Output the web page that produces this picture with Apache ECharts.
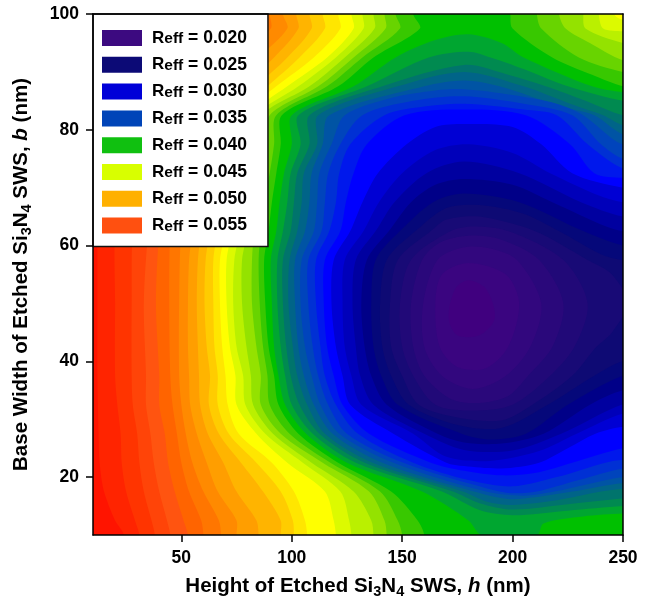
<!DOCTYPE html>
<html>
<head>
<meta charset="utf-8">
<title>Reff contour</title>
<script src="https://cdn.jsdelivr.net/npm/echarts@6/dist/echarts.min.js"></script>
<style>
  html, body { margin: 0; padding: 0; background: #fff; }
  #chart { width: 649px; height: 604px; }
</style>
</head>
<body>
<div id="chart"></div>
<script>
// contour lines of R_eff, as [h (nm), b (nm)] points.
// wallXXX: runs from the top edge down to the bottom edge (region to its right is below the level)
const wall058 = [[15,100],[13,90],[12,80],[12,62.5],[12,50],[12,37.5],[12.5,27.5],[13,22.5],[15,17.5],[20,12.5],[24,10]];
const wall057 = [[30,100],[25,92.5],[24,77.5],[23,67.5],[20,62.5],[20,50],[20,37.5],[21,32.5],[22.5,27.5],[23,22.5],[25,17.5],[29,12.5],[31,10]];
const wall056 = [[40,100],[35,92.5],[33,77.5],[31,67.5],[28,62.5],[27.5,50],[27.5,37.5],[28,32.5],[30,27.5],[31,22.5],[33,17.5],[36.5,12.5],[38,10]];
const wall055 = [[50,100],[45,92.5],[40,77.5],[37,67.5],[35,62.5],[33,50],[34,37.5],[34,32.5],[36,27.5],[37.5,22.5],[40,17.5],[43.5,12.5],[45,10]];
const wall054 = [[65,100],[55,92.5],[47,77.5],[42,67.5],[40,62.5],[38.5,50],[40,37.5],[40,32.5],[42.5,27.5],[44,22.5],[47,17.5],[51,12.5],[53,10]];
const wall053 = [[82,100],[65,92.5],[52,77.5],[47,67.5],[45,62.5],[44.5,50],[45,37.5],[46,32.5],[48,27.5],[50,22.5],[53.5,17.5],[59,12.5],[60,10]];
const wall052 = [[90,100],[90.5,97.5],[75,92.5],[65,87.5],[58,82.5],[55,77.5],[54,72.5],[53,67.5],[50,62.5],[49,50],[49,37.5],[50,32.5],[52,27.5],[55,22.5],[60,17.5],[67,12.5],[68,10]];
const wall051 = [[96,100],[98,97.5],[85,92.5],[72,87.5],[62.5,82.5],[60,77.5],[57.5,72.5],[56,67.5],[55,62.5],[53.5,57.5],[53,50],[53,42.5],[53.5,37.5],[54,32.5],[57,27.5],[61.5,22.5],[66.5,17.5],[75,12.5],[75,10]];
const wall050 = [[102,100],[103,97.5],[92,92.5],[78,87.5],[67,82.5],[65,77.5],[62.5,72.5],[60.5,67.5],[59,62.5],[57.5,57.5],[57,50],[57.5,42.5],[58,37.5],[58.5,32.5],[62,27.5],[69,22.5],[75,17.5],[84,12.5],[85,10]];
const wall049 = [[108,100],[109,97.5],[98,92.5],[84,87.5],[71,82.5],[68,77.5],[66.5,72.5],[65,67.5],[63,62.5],[61,57.5],[60.5,50],[61.5,42.5],[63,37.5],[62.5,32.5],[67,27.5],[77,22.5],[87,17.5],[95,12.5],[95,10]];
const wall048 = [[114,100],[115,97.5],[103.5,92.5],[89,87.5],[75,82.5],[72,77.5],[70,72.5],[68.5,67.5],[66.5,62.5],[64.5,57.5],[64.5,50],[65,42.5],[66.5,37.5],[66.5,32.5],[71.5,27.5],[84,22.5],[95,17.5],[100.5,12.5],[101,10]];
const wall047 = [[121,100],[122,97.5],[110,92.5],[93,87.5],[78,82.5],[75,77.5],[73.5,72.5],[71.5,67.5],[70,62.5],[67.5,57.5],[67.5,50],[68.5,42.5],[70,37.5],[71,32.5],[76,27.5],[91,22.5],[101,17.5],[106,12.5],[107,10]];
const wall046 = [[127,100],[128,97.5],[116,92.5],[98,87.5],[81,82.5],[78.5,77.5],[76.5,72.5],[75,67.5],[73,62.5],[70.5,57.5],[70.5,50],[72,42.5],[74.5,37.5],[75,32.5],[84,27.5],[98,22.5],[115,17.5],[119,12.5],[120,10]];
const wall045 = [[132,100],[132.5,97.5],[120,92.5],[103,87.5],[84,82.5],[82,77.5],[80,72.5],[78,67.5],[76.5,62.5],[74,57.5],[73.5,50],[75,42.5],[78,37.5],[79,32.5],[88,27.5],[105,22.5],[122,17.5],[126,12.5],[127,10]];
const wall044 = [[137,100],[137.5,97.5],[124,92.5],[108,87.5],[86.5,82.5],[86,77.5],[83.5,72.5],[81,67.5],[80,62.5],[77.5,57.5],[77.5,50],[79.5,42.5],[81.5,37.5],[82.5,32.5],[91.5,27.5],[109,22.5],[128,17.5],[136,12.5],[137,10]];
const wall043 = [[142,100],[142.5,97.5],[128,92.5],[112,87.5],[90,82.5],[89,77.5],[86.5,72.5],[84.5,67.5],[83,62.5],[82,57.5],[82,50],[84,42.5],[86,37.5],[86,32.5],[95,27.5],[114,22.5],[135,17.5],[142,12.5],[143,10]];
const wall042 = [[147,100],[149,97.5],[132,92.5],[116,87.5],[93,82.5],[92,77.5],[90,72.5],[87.5,67.5],[86,62.5],[85,57.5],[85.5,50],[87,42.5],[89,37.5],[90,32.5],[99,27.5],[117.5,22.5],[140,17.5],[148,12.5],[150,10]];
const wall041 = [[155,100],[158,97.5],[137,92.5],[121,87.5],[95.5,82.5],[95,77.5],[93,72.5],[91,67.5],[89.5,62.5],[87.5,57.5],[88,50],[89.5,42.5],[92,37.5],[94,32.5],[103,27.5],[121,22.5],[145,17.5],[157,12.5],[160,10]];
// topXXX: same levels near the top-right corner, from the right edge up to the top edge
const top046 = [[250,99],[246,100]];
const top045 = [[250,97],[241,97.5],[239,100]];
const top044 = [[250,95],[233,97.5],[232,100]];
const top043 = [[250,92],[235,95],[224,97.5],[221,100]];
const top042 = [[250,90],[230,92.5],[213,97.5],[211,100]];
const top041 = [[250,87.5],[236,89.5],[218,92.5],[200,97.5],[199,100]];
// bowlXXX: from the right edge (low side) round the basin back to the right edge (high side)
const bowl040 = [[250,13.7],[232,13.2],[214,12],[211,10],[186,10],[180,12.5],[159,17.5],[125,22.5],[106.5,27.5],[97,32.5],[94,37.5],[92,42.5],[91,50],[90.5,57.5],[93,62.5],[94.5,67.5],[96.5,72.5],[100,77.5],[100,82.5],[128,87.5],[147,92.5],[165,95.5],[180,96.5],[195,95],[205,92.5],[236,87.5],[250,86.5]];
const bowl039 = [[250,15],[225,14.2],[200,13.4],[185,14.3],[168,17.5],[129,22.5],[109.5,27.5],[100,32.5],[97,37.5],[95,42.5],[93.5,50],[93.5,57.5],[96,62.5],[98,67.5],[99.5,72.5],[104,77.5],[103,82.5],[134,87.5],[162,92.5],[180,93.5],[190,92.5],[205,90.5],[225,87.5],[250,85]];
const bowl038 = [[250,16.3],[225,15.3],[200,14.4],[185,15.5],[173,17.5],[133,22.5],[112.5,27.5],[103.5,32.5],[99.5,37.5],[97.5,42.5],[96,50],[96,57.5],[99.5,62.5],[101,67.5],[102.5,72.5],[108,77.5],[108,82.5],[141,87.5],[178,91.2],[198,89.5],[215,87.5],[233,85],[250,82.5]];
const bowl037 = [[250,18],[240,17.5],[220,16],[200,15.2],[188,15.8],[177.5,17.5],[136.5,22.5],[115,27.5],[107,32.5],[102.5,37.5],[100.5,42.5],[98.5,50],[99,57.5],[102.5,62.5],[104.5,67.5],[105.5,72.5],[111.5,77.5],[112,82.5],[148,87.5],[178,90],[205,87.5],[226,84.5],[241,82.5],[250,80.8]];
const bowl036 = [[250,19],[227,17.5],[210,16.5],[198,16.2],[182.5,17.5],[141,22.5],[118.5,27.5],[110,32.5],[105.5,37.5],[103,42.5],[101.5,50],[101.5,57.5],[106,62.5],[108,67.5],[109,72.5],[114,77.5],[117,82.5],[160,87.5],[178,88.5],[194,87.5],[222,84],[237,82.5],[250,79.2]];
const bowl035 = [[250,20],[219,17.5],[205,16.8],[188,17.5],[146,22.5],[121.5,27.5],[113,32.5],[109,37.5],[106,42.5],[104,50],[104.5,57.5],[110,62.5],[111.5,67.5],[112.5,72.5],[118,77.5],[124,82.5],[145,85.5],[165,86.8],[178,87],[200,86],[220,84.5],[232,82.5],[245,78.5],[250,77.5]];
const bowl034 = [[250,21.5],[230,19.5],[211,17.5],[202,17.2],[194,17.5],[150.5,22.5],[125,27.5],[116.5,32.5],[112,37.5],[109.5,42.5],[107.5,50],[107.5,57.5],[113.5,62.5],[115,67.5],[116.5,72.5],[122,77.5],[132,82.5],[155,85],[178,85.8],[205,84.5],[227,82.5],[240,77.5],[250,75]];
const bowl033 = [[250,23],[242,22.5],[220,20],[200,18.4],[180,19.5],[155,22.5],[130,27.5],[120,32.5],[115,37.5],[113,42.5],[111,50],[111,57.5],[117,62.5],[120,67.5],[121.5,72.5],[126.5,77.5],[142,82.5],[160,84],[178,84.5],[205,83.5],[220,82.5],[234,77.5],[250,73.3]];
const bowl032 = [[250,25],[227,22.5],[210,20.7],[195,20.3],[178,21.1],[163,22.5],[135,27.5],[123,32.5],[119,37.5],[116,42.5],[114.5,50],[115,57.5],[122,62.5],[124.5,67.5],[128,72.5],[134,77.5],[151,82.5],[178,83.5],[206,82.5],[226,77.5],[237,72.5],[250,71.7]];
const bowl031 = [[250,28.7],[237.5,27.5],[225,25],[212,22.5],[195,21.5],[178,21.9],[170,22.5],[146,27.5],[126.5,32.5],[123,37.5],[120,42.5],[118,50],[119,57.5],[126.5,62.5],[132,67.5],[139,72.5],[152,77.5],[165,80.5],[178,81],[200,80.5],[213,77.5],[227,72.5],[250,70]];
const bowl030 = [[250,31],[229,27.5],[212,24.5],[190,22.8],[170,23.5],[155,27.5],[131.5,32.5],[127,37.5],[124,42.5],[123,50],[124,57.5],[132.5,62.5],[139.5,67.5],[150,72.5],[165,76.5],[180,77.5],[200,76],[217,72.5],[240,68.5],[250,67.5]];
const bowl029 = [[250,32.6],[222,27.5],[200,24.6],[178,24.7],[160,27.5],[137,32.5],[131,37.5],[129,42.5],[127.5,50],[129,57.5],[138,62.5],[146.5,67.5],[161,72.5],[178,74.5],[203,72.5],[231,67.5],[250,65]];
const bowl028 = [[250,35],[235,32.5],[214,27.5],[195,25.8],[178,26],[166,27.5],[143,32.5],[136,37.5],[133,42.5],[131.5,50],[134,57.5],[144,62.5],[154,67.5],[165,70.5],[178,71.5],[200,70.5],[218,67.5],[243,63.2],[250,62.5]];
const bowl027 = [[250,37.5],[225,32.5],[206,27.5],[190,26.5],[177,27.5],[148,32.5],[140.5,37.5],[137,42.5],[136,50],[138,57.5],[149,62.5],[164,67.5],[178,69],[203,67.5],[232,62.5],[250,60]];
const bowl026 = [[250,40],[237,37.5],[216,32.5],[195,28.5],[175,29],[153,32.5],[145,37.5],[141,42.5],[140,50],[143,57.5],[156,62.5],[170,66.5],[185,67],[205,65.5],[221,62.5],[240,58.5],[250,57.5]];
// ringXXX: closed loops round the minimum
const ring025 = [[252,50],[245,55],[234,57.5],[210,62.5],[185,65],[170,64.5],[163,62.5],[148,57.5],[144.5,50],[145,42.5],[150,37.5],[157.5,32.5],[175,30.3],[195,29.8],[209,32.5],[227,37.5],[238,42.5],[245,45]];
const ring024 = [[234,50],[223,57.5],[198,62.5],[182,63.3],[172,62.5],[154,57.5],[149,50],[150,42.5],[155,37.5],[165,32.5],[182,31.5],[200,32.5],[217,37.5],[228,42.5]];
const ring023 = [[223,50],[212,57.5],[195,61],[180,61.7],[167,60.5],[159,57.5],[154,50],[155,42.5],[160,37.5],[172,33.5],[185,32.8],[198,34],[207,37.5],[218,42.5]];
const ring022 = [[213,50],[202,57.5],[190,59.5],[178,59.7],[166,57.5],[159.5,50],[160,42.5],[168,37.5],[182,35.2],[197,37.5],[208,42.5]];
const ring021 = [[203,50],[197,55],[180,57],[168,55],[165,50],[167,42.5],[175,39],[188,38.8],[198,42.5]];
const ring020 = [[192,47.5],[188,52.5],[180,54],[174,52.5],[171,47.5],[175,44.5],[185,44.5]];

const xTicks = [50, 100, 150, 200, 250];
const yTicks = [20, 40, 60, 80, 100];

const legendLevels = ['0.020', '0.025', '0.030', '0.035', '0.040', '0.045', '0.050', '0.055'];
const legendColors = ['#3c0a80', '#0c0a76', '#0000d8', '#0044b8', '#10c010', '#d8ff00', '#ffb000', '#ff5010'];

// fill colour of each 0.001 band, starting with the band 0.018-0.019
const bandStart = 18;
const bandColors = [
  '#42007f', '#40007f', '#3a0580', '#32077e', '#2a087b', '#210978', '#180a76', '#0e0a74',
  '#05087a', '#000088', '#0000a0', '#0000ba', '#0000d4', '#0000ff', '#0018ec', '#0030d4',
  '#0044bc', '#0054a4', '#006488', '#00746c', '#008a50', '#00a630', '#00c000', '#38c800',
  '#68d400', '#94e200', '#baf000', '#dcfa00', '#ffff00', '#ffe600', '#ffcc00', '#ffb400',
  '#ff9e00', '#ff8a00', '#ff7600', '#ff6400', '#ff5410', '#ff4408', '#ff3400', '#ff2400',
  '#ff1400', '#ff0800'
];

// drawn from the highest level down, so each region sits on top of the previous one
const contours = [
  { level: 58, kind: 'wall', path: wall058 },
  { level: 57, kind: 'wall', path: wall057 },
  { level: 56, kind: 'wall', path: wall056 },
  { level: 55, kind: 'wall', path: wall055 },
  { level: 54, kind: 'wall', path: wall054 },
  { level: 53, kind: 'wall', path: wall053 },
  { level: 52, kind: 'wall', path: wall052 },
  { level: 51, kind: 'wall', path: wall051 },
  { level: 50, kind: 'wall', path: wall050 },
  { level: 49, kind: 'wall', path: wall049 },
  { level: 48, kind: 'wall', path: wall048 },
  { level: 47, kind: 'wall', path: wall047 },
  { level: 46, kind: 'wall', path: wall046, right: top046 },
  { level: 45, kind: 'wall', path: wall045, right: top045 },
  { level: 44, kind: 'wall', path: wall044, right: top044 },
  { level: 43, kind: 'wall', path: wall043, right: top043 },
  { level: 42, kind: 'wall', path: wall042, right: top042 },
  { level: 41, kind: 'wall', path: wall041, right: top041 },
  { level: 40, kind: 'bowl', path: bowl040 },
  { level: 39, kind: 'bowl', path: bowl039 },
  { level: 38, kind: 'bowl', path: bowl038 },
  { level: 37, kind: 'bowl', path: bowl037 },
  { level: 36, kind: 'bowl', path: bowl036 },
  { level: 35, kind: 'bowl', path: bowl035 },
  { level: 34, kind: 'bowl', path: bowl034 },
  { level: 33, kind: 'bowl', path: bowl033 },
  { level: 32, kind: 'bowl', path: bowl032 },
  { level: 31, kind: 'bowl', path: bowl031 },
  { level: 30, kind: 'bowl', path: bowl030 },
  { level: 29, kind: 'bowl', path: bowl029 },
  { level: 28, kind: 'bowl', path: bowl028 },
  { level: 27, kind: 'bowl', path: bowl027 },
  { level: 26, kind: 'bowl', path: bowl026 },
  { level: 25, kind: 'ring', path: ring025 },
  { level: 24, kind: 'ring', path: ring024 },
  { level: 23, kind: 'ring', path: ring023 },
  { level: 22, kind: 'ring', path: ring022 },
  { level: 21, kind: 'ring', path: ring021 },
  { level: 20, kind: 'ring', path: ring020 }
];

const H_MIN = 10, H_MAX = 250, B_MIN = 10, B_MAX = 100;
const FONT = '"Liberation Sans", Arial, Helvetica, sans-serif';

// close a contour line round the outside of the plot (the part outside is clipped away)
const outline = (c) => {
  const p = c.path;
  if (c.kind === 'ring') return p;
  if (c.kind === 'bowl') {
    return p.concat([[H_MAX + 12, p[p.length - 1][1]], [H_MAX + 12, p[0][1]]]);
  }
  const first = p[0];
  const last = p[p.length - 1];
  const pts = p.concat([[last[0] + 1, B_MIN - 6], [H_MAX + 80, B_MIN - 6]]);
  if (c.right) {
    const r0 = c.right[0];
    const r1 = c.right[c.right.length - 1];
    pts.push([H_MAX + 80, r0[1] - 1], [H_MAX + 12, r0[1] - 0.5]);
    c.right.forEach((q) => pts.push(q));
    pts.push([r1[0] - 1, B_MAX + 6]);
  } else {
    pts.push([H_MAX + 80, B_MAX + 6]);
  }
  pts.push([first[0] + 1, B_MAX + 6]);
  return pts;
};

const renderContour = (params, api) => {
  const c = contours[params.dataIndex];
  return {
    type: 'polygon',
    shape: { points: outline(c).map((q) => api.coord(q)), smooth: 0.3 },
    style: { fill: bandColors[c.level - 1 - bandStart] }
  };
};

const nameRich = {
  t: { fontSize: 20.5, fontWeight: 'bold', fontFamily: FONT, color: '#000', lineHeight: 26 },
  s: { fontSize: 14.5, fontWeight: 'bold', fontFamily: FONT, color: '#000', lineHeight: 14, verticalAlign: 'bottom' },
  i: { fontSize: 20.5, fontWeight: 'bold', fontStyle: 'italic', fontFamily: FONT, color: '#000', lineHeight: 26 }
};

const blackLine = { color: '#000', width: 1.5 };
const tickLabel = { color: '#000', fontSize: 17.5, fontWeight: 'bold', fontFamily: FONT };

const frameAxis = (position, min, max) => ({
  type: 'value', position, min, max, z: 5,
  axisLine: { show: true, onZero: false, lineStyle: blackLine },
  axisTick: { show: false },
  axisLabel: { show: false },
  splitLine: { show: false }
});

const chart = echarts.init(document.getElementById('chart'));

chart.setOption({
  backgroundColor: '#fff',
  animation: false,
  grid: {
    left: 93, top: 14, width: 530, height: 528,
    show: true, backgroundColor: bandColors[40], borderWidth: 0
  },
  xAxis: [
    {
      type: 'value', min: H_MIN, max: H_MAX, position: 'bottom', z: 5,
      axisLine: { show: true, onZero: false, lineStyle: blackLine },
      axisTick: { show: true, length: 7, customValues: xTicks, lineStyle: blackLine },
      axisLabel: Object.assign({ customValues: xTicks, margin: 14 }, tickLabel),
      splitLine: { show: false },
      name: '{t|Height of Etched Si}{s|3}{t|N}{s|4}{t| SWS, }{i|h}{t| (nm)}',
      nameLocation: 'middle',
      nameGap: 38,
      nameTextStyle: { rich: nameRich }
    },
    frameAxis('top', H_MIN, H_MAX)
  ],
  yAxis: [
    {
      type: 'value', min: B_MIN, max: B_MAX, position: 'left', z: 5,
      axisLine: { show: true, onZero: false, lineStyle: blackLine },
      axisTick: { show: true, length: 7, customValues: yTicks, lineStyle: blackLine },
      axisLabel: Object.assign({ customValues: yTicks, margin: 14 }, tickLabel),
      splitLine: { show: false },
      name: '{t|Base Width of Etched Si}{s|3}{t|N}{s|4}{t| SWS, }{i|b}{t| (nm)}',
      nameLocation: 'middle',
      nameGap: 59,
      nameTextStyle: { rich: nameRich }
    },
    frameAxis('right', B_MIN, B_MAX)
  ],
  legend: {
    left: 93, top: 14,
    orient: 'vertical', align: 'left',
    icon: 'rect', itemWidth: 40, itemHeight: 16, itemGap: 8.8,
    padding: [15, 21, 12, 9],
    backgroundColor: '#fff', borderColor: '#111', borderWidth: 1.5,
    selectedMode: false,
    data: legendLevels,
    formatter: (lv) => '{r|R}{e|eff}{v| = ' + lv + '}',
    textStyle: {
      rich: {
        r: { fontSize: 17, fontWeight: 'bold', fontFamily: FONT, color: '#000', lineHeight: 18, padding: [0, 0, 0, 5] },
        e: { fontSize: 15.5, fontWeight: 'bold', fontFamily: FONT, color: '#000', lineHeight: 10, verticalAlign: 'bottom' },
        v: { fontSize: 17.5, fontWeight: 'bold', fontFamily: FONT, color: '#000', lineHeight: 18 }
      }
    }
  },
  series: [
    {
      type: 'custom',
      renderItem: renderContour,
      data: contours.map((c, i) => i),
      clip: true,
      silent: true
    }
  ].concat(legendLevels.map((lv, k) => ({
    name: lv,
    type: 'line',
    data: [],
    itemStyle: { color: legendColors[k] },
    lineStyle: { color: legendColors[k] }
  })))
});
</script>
</body>
</html>
